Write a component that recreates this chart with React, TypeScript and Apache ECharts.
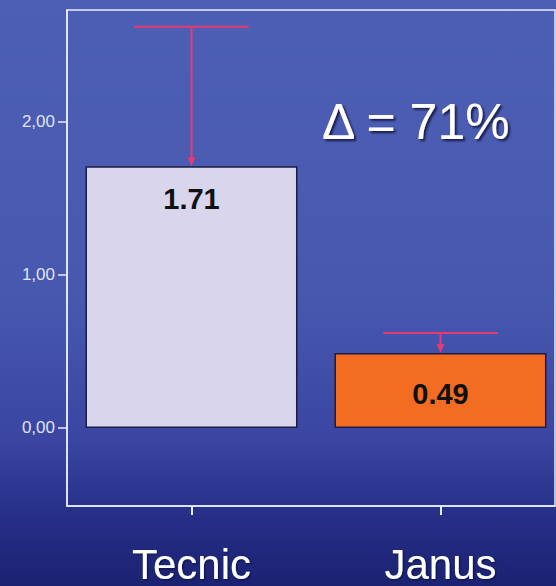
import React, { useEffect, useRef } from "react";
import * as echarts from "echarts";

const categories = ["Tecnic", "Janus"];
const means = [1.71, 0.49];
const upper = [2.62, 0.62];
const yTicks = [0, 1, 2];
const xTicks = [0, 1];
const deltaLabel = "Δ = 71%";
const barColors = ["#d9d5ec", "#f26c22"];
const errColor = "#e63a72";

export default function App() {
  const ref = useRef<HTMLDivElement>(null);
  useEffect(() => {
    document.body.style.margin = "0";
    const chart = echarts.init(ref.current!, null, { renderer: "svg" });
    const option: any = {
      animation: false,
      backgroundColor: {
        type: "linear",
        x: 0,
        y: 0,
        x2: 0,
        y2: 1,
        colorStops: [
          { offset: 0, color: "#4d5fb5" },
          { offset: 0.5, color: "#4858af" },
          { offset: 0.75, color: "#3a46a2" },
          { offset: 0.88, color: "#262f88" },
          { offset: 1, color: "#1b2272" },
        ],
      },
      grid: {
        left: 67,
        top: 10,
        width: 488,
        height: 496,
        show: true,
        borderColor: "#e8eef8",
        borderWidth: 1.5,
        backgroundColor: "transparent",
      },
      xAxis: {
        type: "value",
        min: -0.5,
        max: 1.46,
        axisLine: { onZero: false, lineStyle: { color: "#e8eef8", width: 1.5 } },
        axisTick: { show: true, length: 9, customValues: xTicks, lineStyle: { color: "#e8eef8", width: 2 } },
        axisLabel: {
          customValues: xTicks,
          formatter: (v: number) => categories[Math.round(v)] ?? "",
          color: "#ffffff",
          fontSize: 42,
          fontFamily: "Liberation Sans",
          margin: 37,
          textShadowColor: "rgba(0,0,30,0.6)",
          textShadowBlur: 2,
          textShadowOffsetX: 1,
          textShadowOffsetY: 1,
        },
        splitLine: { show: false },
      },
      yAxis: {
        type: "value",
        min: -0.51,
        max: 2.73,
        axisLine: { show: true, onZero: false, lineStyle: { color: "#e8eef8", width: 1.5 } },
        axisTick: { show: true, length: 9, customValues: yTicks, lineStyle: { color: "#e8eef8", width: 1.5 } },
        axisLabel: {
          customValues: yTicks,
          color: "#dfe5f5",
          fontSize: 17,
          fontFamily: "Liberation Sans",
          margin: 12,
          formatter: (v: number) => v.toFixed(2).replace(".", ","),
        },
        splitLine: { show: false },
      },
      graphic: [
        {
          type: "text",
          left: 322,
          top: 97,
          style: {
            text: deltaLabel,
            fill: "#ffffff",
            font: "50px 'Liberation Sans'",
            textShadowColor: "rgba(0,0,30,0.7)",
            textShadowBlur: 2,
            textShadowOffsetX: 2,
            textShadowOffsetY: 2,
          },
          z: 10,
        },
      ],
      series: [
        {
          type: "bar",
          barWidth: 212,
          data: means.map((v, i) => ({
            value: [i, v],
            itemStyle: { color: barColors[i], borderColor: "#1c1c45", borderWidth: 1.5 },
            label: {
              show: true,
              position: i === 0 ? "insideTop" : "inside",
              distance: 18,
              offset: i === 0 ? [0, 0] : [0, 4],
              formatter: () => v.toFixed(2),
              color: "#111111",
              fontSize: 29,
              fontWeight: "bold",
              fontFamily: "Liberation Sans",
            },
          })),
          z: 2,
        },
        {
          type: "custom",
          z: 5,
          data: means.map((v, i) => [i, v, upper[i]]),
          encode: { x: 0, y: [1, 2] },
          renderItem: (params: any, api: any) => {
            const x = api.value(0);
            const v = api.value(1);
            const hi = api.value(2);
            const top = api.coord([x, hi]);
            const base = api.coord([x, v]);
            const half = api.size([1, 0])[0] * 0.23;
            return {
              type: "group",
              children: [
                {
                  type: "line",
                  shape: { x1: top[0] - half, y1: top[1], x2: top[0] + half, y2: top[1] },
                  style: { stroke: errColor, lineWidth: 2 },
                },
                {
                  type: "line",
                  shape: { x1: top[0], y1: top[1], x2: top[0], y2: base[1] - 6 },
                  style: { stroke: errColor, lineWidth: 2 },
                },
                {
                  type: "polygon",
                  shape: {
                    points: [
                      [top[0] - 4, base[1] - 9],
                      [top[0] + 4, base[1] - 9],
                      [top[0], base[1]],
                    ],
                  },
                  style: { fill: errColor },
                },
              ],
            };
          },
        },
      ],
    };
    chart.setOption(option);
    return () => chart.dispose();
  }, []);
  return <div ref={ref} style={{ width: 556, height: 586, position: "absolute", left: 0, top: 0 }} />;
}
